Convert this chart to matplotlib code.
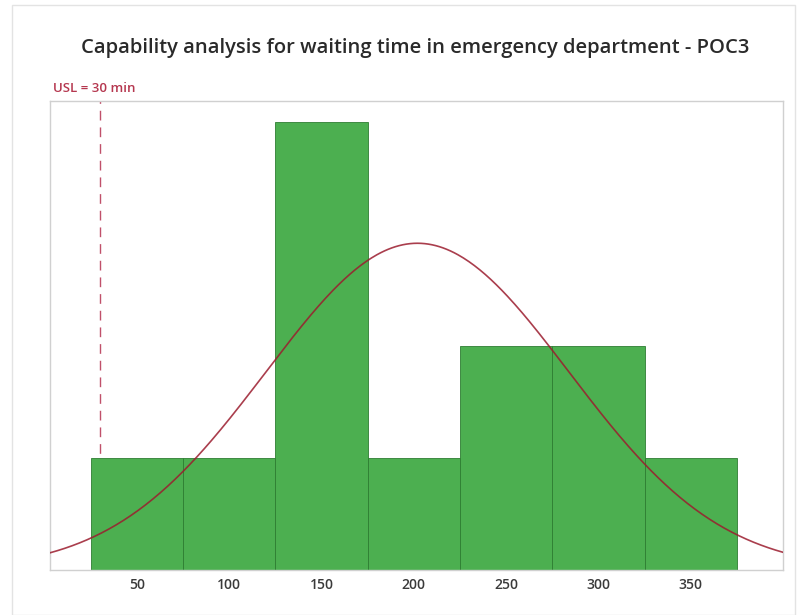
import numpy as np
import matplotlib
matplotlib.use("Agg")
import matplotlib.pyplot as plt
from matplotlib.patches import Rectangle

# Data
bin_edges = [25, 75, 125, 175, 225, 275, 325, 375]
counts = [1, 1, 4, 1, 2, 2, 1]
mean_val = 202
std_val = 82
usl = 30
xticks = [50, 100, 150, 200, 250, 300, 350]

plt.rcParams['font.family'] = ['Open Sans', 'DejaVu Sans']

fig = plt.figure(figsize=(8.11, 6.15), dpi=100)
# outer frame
fig.patches.append(Rectangle((12/811, 0), (795-12)/811, 1 - 5/615, transform=fig.transFigure,
                             fill=False, edgecolor='#e3e3e3', linewidth=1.0))

ax = fig.add_axes([50/811, 1 - 570/615, (783-50)/811, (570-101)/615])

widths = np.diff(bin_edges)
ax.bar(bin_edges[:-1], counts, width=widths, align='edge', color='#4caf50',
       edgecolor='#2e7d32', linewidth=0.6, zorder=2)

ax.axvline(usl, color='#c0506a', linestyle=(0, (7, 5)), linewidth=1.0, zorder=1)

xs = np.linspace(3, 400, 400)
n = sum(counts)
bw = 50
ys = n * bw / (std_val * np.sqrt(2 * np.pi)) * np.exp(-0.5 * ((xs - mean_val) / std_val) ** 2)
ax.plot(xs, ys, color='#9b1c2e', linewidth=1.2, alpha=0.85, zorder=3)

ax.set_xlim(3, 400)
ax.set_ylim(0, 4.19)
ax.set_yticks([])
ax.set_xticks(xticks)
ax.set_xticklabels([str(t) for t in xticks], fontsize=10, color='#3a3a3a',
                   fontweight='semibold')
ax.tick_params(axis='x', length=0, pad=6)
for s in ax.spines.values():
    s.set_color('#d0d0d0')
    s.set_linewidth(1.0)

fig.text(415/811, 1 - 48/615, 'Capability analysis for waiting time in emergency department - POC3',
         ha='center', va='center', fontsize=14.5, color='#2a2a2a', fontweight='semibold')
fig.text(53/811, 1 - 88/615, 'USL = 30 min', ha='left', va='center', fontsize=9.5,
         color='#b5374f', fontweight='semibold')

fig.savefig('out.png', dpi=100)
